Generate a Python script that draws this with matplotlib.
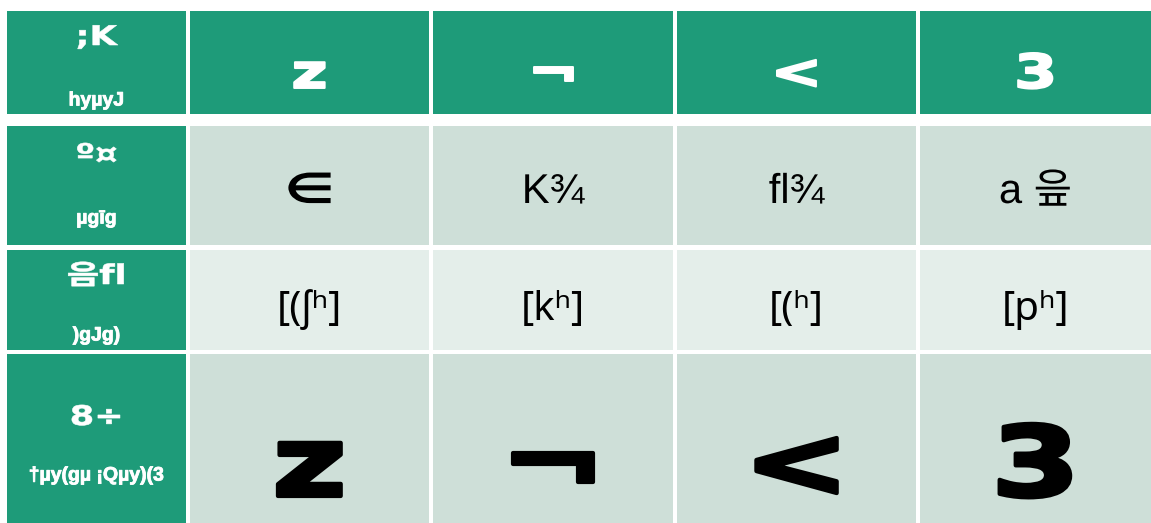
import matplotlib
matplotlib.use("Agg")
import matplotlib.pyplot as plt
from matplotlib.patches import Rectangle
from matplotlib.transforms import Affine2D
import matplotlib.patheffects as pe

plt.rcParams['font.family'] = ['Liberation Sans', 'DejaVu Sans', 'Noto Sans CJK KR']

# ---- data ----
corner_title = ";K"
corner_sub = "hyµyJ"
columns = ["z", "¬", "<", "3"]
row_titles = ["º¤", "음fl", "8÷"]
row_subs = ["µgīg", ")gJg)", "†µy(gµ ¡Qµy)(3"]
row_letters = ["∈", "K¾", "fl¾", "a 읖"]
row_ipa = ["[(ʃʰ]", "[kʰ]", "[(ʰ]", "[pʰ]"]
row_big = ["z", "¬", "<", "3"]

# ---- layout (pixels) ----
W, H = 1151, 523
col_x = [7, 190, 433, 677, 920]
col_w = [179, 239, 240, 239, 231]
row_y = [11, 126, 250, 354]
row_h = [103, 119, 100, 169]

GREEN = "#1e9b79"
LIGHT1 = "#cedfd8"
LIGHT2 = "#e4eeea"
row_bg = [GREEN, LIGHT1, LIGHT2, LIGHT1]


class WideBold(pe.AbstractPathEffect):
    """Render text stretched horizontally about its centre, optionally stroked."""

    def __init__(self, sx=1.4, lw=0.0, color="black"):
        super().__init__()
        self.sx = sx
        self.lw = lw
        self.color = color

    def draw_path(self, renderer, gc, tpath, affine, rgbFace=None):
        ext = tpath.get_extents(affine)
        c = (ext.x0 + ext.x1) / 2
        aff = affine + Affine2D().translate(-c, 0).scale(self.sx, 1).translate(c, 0)
        gc0 = renderer.new_gc()
        gc0.copy_properties(gc)
        if self.lw > 0:
            gc0.set_linewidth(self.lw)
            gc0.set_foreground(self.color)
            gc0.set_joinstyle("round")
        else:
            gc0.set_linewidth(0)
        renderer.draw_path(gc0, tpath, aff, rgbFace)
        gc0.restore()


fig = plt.figure(figsize=(W / 100, H / 100), dpi=100)
ax = fig.add_axes([0, 0, 1, 1])
ax.set_xlim(0, W)
ax.set_ylim(H, 0)
ax.axis("off")

for r in range(4):
    for c in range(5):
        color = GREEN if c == 0 else row_bg[r]
        ax.add_patch(Rectangle((col_x[c], row_y[r]), col_w[c], row_h[r],
                               facecolor=color, edgecolor="none"))


def cx(c):
    return col_x[c] + col_w[c] / 2


HEAVY = ['DejaVu Sans', 'Noto Sans CJK KR']
thin_w = [pe.withStroke(linewidth=0.6, foreground="white")]

# left column labels
ax.text(cx(0), 45, corner_title, color="white", fontsize=19.5, fontweight="bold",
        family=HEAVY, ha="center", va="baseline",
        path_effects=[WideBold(1.3, 0.4, "white")])
ax.text(cx(0), 101, corner_sub, color="white", fontsize=14, fontweight="bold",
        ha="center", va="center", path_effects=thin_w)
title_base = [163, 284, 425]
sub_y = [219, 336, 476]
for i in range(3):
    ax.text(cx(0), title_base[i], row_titles[i], color="white", fontsize=19.5,
            fontweight="bold", family=HEAVY, ha="center", va="baseline",
            path_effects=[WideBold(1.3, 0.4, "white")])
    ax.text(cx(0), sub_y[i], row_subs[i], color="white", fontsize=14,
            fontweight="bold", ha="center", va="center", path_effects=thin_w)

# header
for j, t in enumerate(columns):
    ax.text(cx(j + 1), 88, t, color="white", fontsize=34, fontweight="bold",
            family=HEAVY, ha="center", va="baseline",
            path_effects=[WideBold(1.32, 1.4, "white")])

# body rows
row1_weight = ["bold", "normal", "normal", "normal"]
row1_sx = [1.35, 1.0, 1.0, 1.0]
for j, t in enumerate(row_letters):
    ax.text(cx(j + 1), 192, t, color="black", fontsize=30,
            fontweight=row1_weight[j], ha="center", va="center",
            path_effects=[WideBold(row1_sx[j], 0.0, "black")])
for j, t in enumerate(row_ipa):
    ax.text(cx(j + 1), 310, t, color="black", fontsize=29,
            ha="center", va="center", family=['Noto Sans', 'DejaVu Sans'])
for j, t in enumerate(row_big):
    ax.text(cx(j + 1), 496, t, color="black", fontsize=70, fontweight="bold",
            family=HEAVY, ha="center", va="baseline",
            path_effects=[WideBold(1.32, 3.0, "black")])

fig.savefig("out.png", dpi=100)
